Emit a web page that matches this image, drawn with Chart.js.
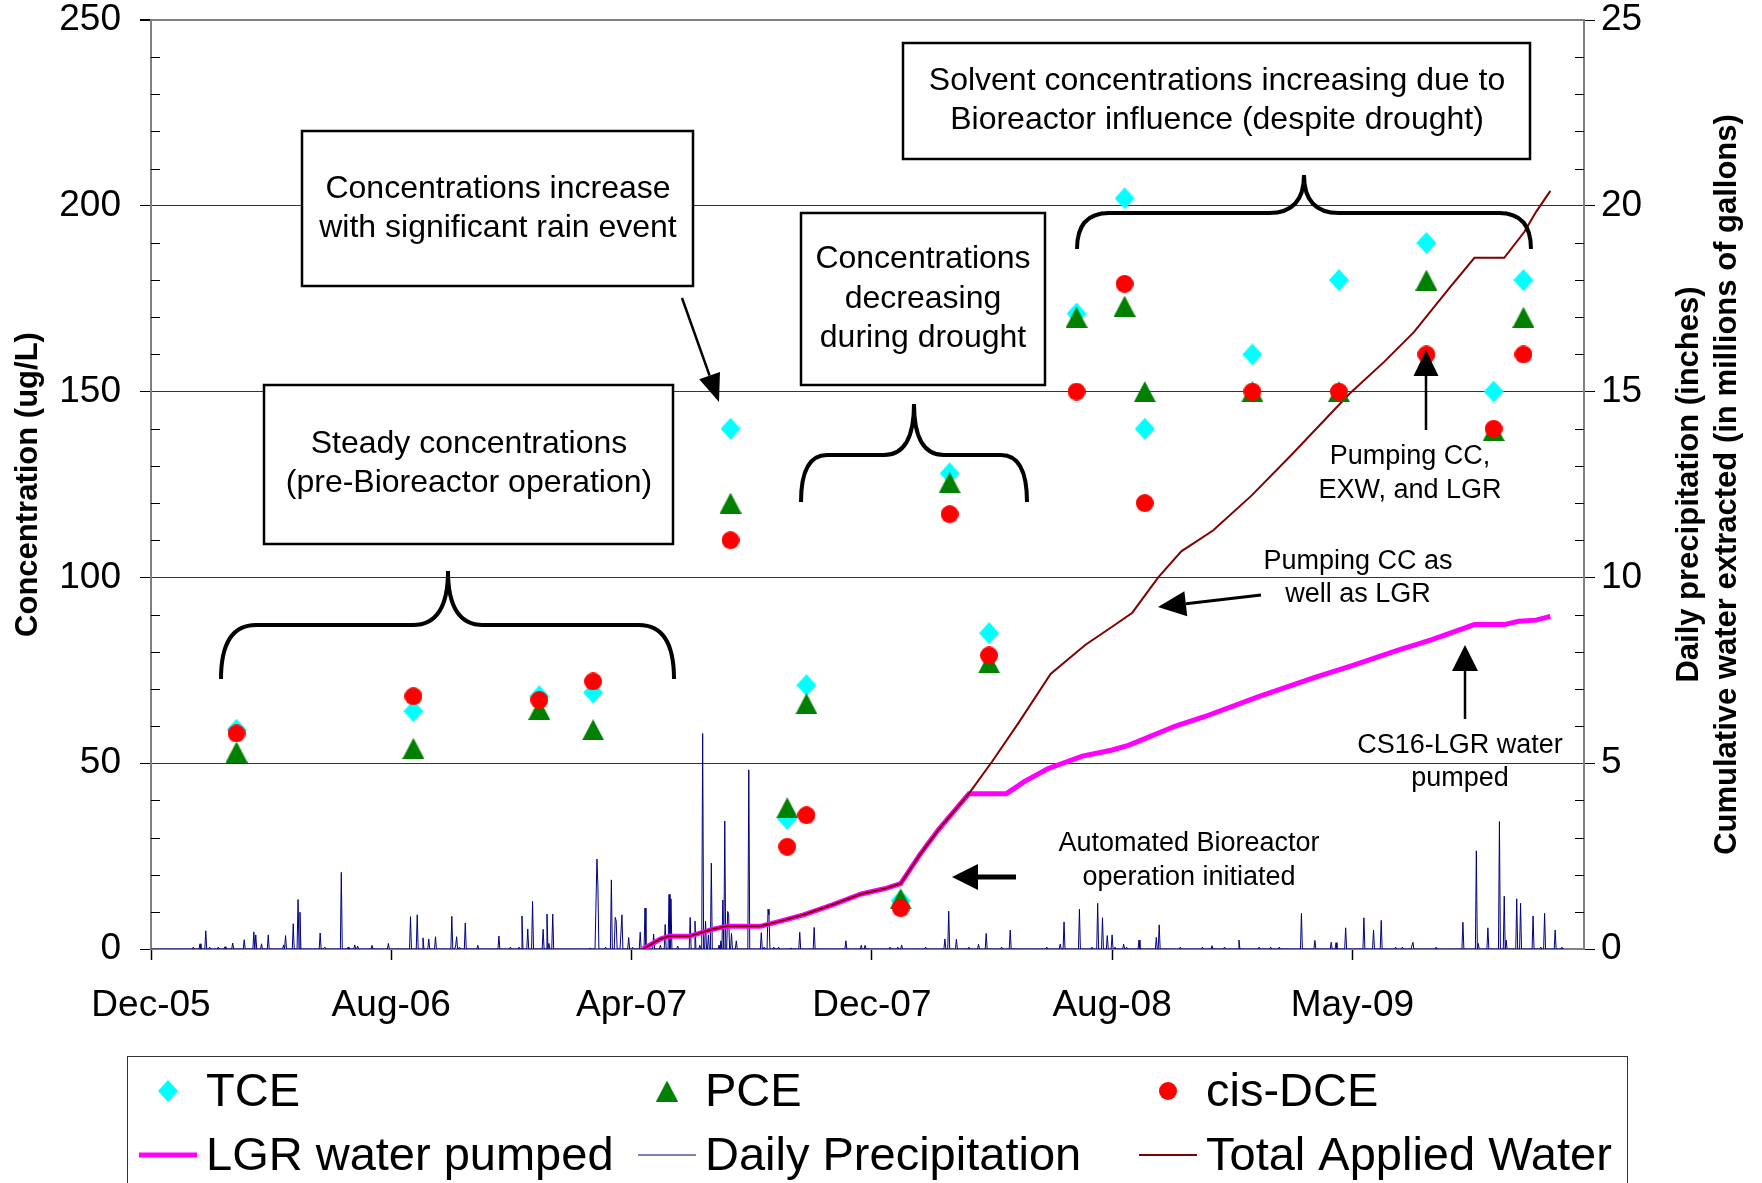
<!DOCTYPE html>
<html>
<head>
<meta charset="utf-8">
<title>Solvent concentrations and applied water</title>
<script src="https://cdn.jsdelivr.net/npm/chart.js@4.4.1/dist/chart.umd.min.js"></script>
<style>
  html, body { margin: 0; padding: 0; background: #fff; }
  #wrap { width: 1762px; height: 1183px; }
</style>
</head>
<body>
<div id="wrap"><canvas id="chart" width="1762" height="1183"></canvas></div>
<script>
// sampling events, x = days counted from 1 Dec 2005
const sampleDays = [89, 273, 404, 460, 603, 662, 682, 780, 831, 872, 963, 1013, 1034, 1146, 1236, 1327, 1397, 1428];
const tce    = [59, 64, 68, 69, 140, 35, 71, 13, 128, 85, 171, 202, 140, 160, 180, 190, 150, 180];
const pce    = [53, 54, 64.5, 59, 120, 38, 66, 13.5, 125.5, 77, 170, 173, 150, 150, 150, 180, 139.5, 170];
const cisDce = [58, 68, 67, 72, 110, 27.5, 36, 11, 117, 79, 150, 179, 120, 150, 150, 160, 140, 160];

// cumulative water, millions of gallons
const lgrDays   = [512, 530, 539, 560, 584, 599, 634, 655, 679, 709, 739, 763, 780, 800, 819, 851, 890, 909, 933, 969, 999, 1017, 1066, 1096, 1151, 1211, 1253, 1296, 1332, 1377, 1408, 1423, 1441, 1456];
const lgrValues = [0, 0.27, 0.34, 0.34, 0.53, 0.61, 0.61, 0.75, 0.92, 1.19, 1.48, 1.62, 1.76, 2.54, 3.2, 4.18, 4.18, 4.51, 4.85, 5.19, 5.35, 5.48, 6.0, 6.25, 6.78, 7.31, 7.65, 8.03, 8.32, 8.73, 8.73, 8.82, 8.85, 8.95];
const totalDays   = [512, 530, 539, 560, 584, 599, 634, 655, 679, 709, 739, 763, 780, 800, 819, 851, 875, 903, 936, 972, 1005, 1021, 1048, 1072, 1105, 1145, 1186, 1247, 1283, 1314, 1350, 1377, 1408, 1429, 1441, 1456];
const totalValues = [0, 0.27, 0.34, 0.34, 0.53, 0.61, 0.61, 0.75, 0.92, 1.19, 1.48, 1.62, 1.76, 2.54, 3.2, 4.18, 5.04, 6.1, 7.4, 8.18, 8.76, 9.05, 10.0, 10.7, 11.26, 12.2, 13.28, 14.94, 15.8, 16.6, 17.76, 18.6, 18.6, 19.3, 19.83, 20.4];

// rainy days (all other days are dry), inches
const rainDays = [44, 51, 57, 61, 70, 77, 85, 97, 107, 109, 115, 122, 138, 140, 148, 153, 155, 176, 181, 198, 205, 212, 215, 230, 247,
  270, 277, 283, 289, 296, 313, 317, 318, 321, 327, 340, 362, 374, 383, 386, 392, 397, 408, 412, 414, 418, 457, 464, 465, 473, 479,
  483, 484, 490, 497, 501, 509, 514, 523, 530, 535, 539, 541, 548, 561, 566, 571, 574, 577, 580, 583, 591, 593, 595, 597, 600, 601,
  604, 609, 622, 635, 638, 642, 643, 648, 653, 666, 675, 690, 723, 739, 743, 769, 777, 781, 806, 826, 830, 838, 851, 861, 869, 885,
  894, 932, 946, 950, 966, 979, 985, 990, 995, 1000, 1003, 1012, 1015, 1028, 1046, 1049, 1071, 1094, 1104, 1117, 1132, 1153, 1165,
  1174, 1197, 1211, 1228, 1233, 1243, 1262, 1272, 1280, 1295, 1302, 1313, 1337, 1365, 1379, 1381, 1391, 1403, 1408, 1410, 1421,
  1425, 1438, 1446, 1450, 1461, 1468];
const rainInches = [0.05, 0.14, 0.49, 0.05, 0.05, 0.06, 0.16, 0.25, 0.46, 0.38, 0.14, 0.38, 0.11, 0.36, 0.68, 1.33, 0.99, 0.43, 0.05, 2.06, 0.05, 0.11, 0.08, 0.1, 0.15,
  0.87, 0.92, 0.3, 0.27, 0.33, 0.88, 0.08, 0.33, 0.05, 0.7, 0.1, 0.35, 0.05, 0.05, 0.89, 0.54, 1.28, 0.53, 0.94, 0.15, 0.94, 0.03, 2.42, 1.7, 0.05, 1.86,
  0.85, 0.76, 0.92, 0.31, 0.05, 0.45, 1.1, 0.4, 0.1, 0.66, 1.47, 1.35, 0.08, 0.85, 0.75, 0.1, 5.8, 0.75, 0.38, 2.31, 0.1, 0.22, 1.32, 3.44, 1.01, 0.96,
  0.42, 0.22, 4.82, 0.44, 0.05, 1.07, 0.92, 0.05, 0.05, 0.03, 0.45, 0.58, 0.22, 0.1, 0.1, 0.05, 0.05, 0.11, 0.05, 0.27, 1.02, 0.26, 0.05, 0.13, 0.42, 0.05,
  0.51, 0.05, 0.13, 0.73, 1.07, 0.05, 1.23, 0.84, 0.36, 0.38, 0.05, 0.13, 0.05, 0.24, 0.31, 0.65, 0.05, 0.05, 0.09, 0.05, 0.24, 0.05, 0.05,
  0.05, 0.96, 0.23, 0.18, 0.17, 0.57, 0.84, 0.51, 0.77, 0.05, 0.05, 0.18, 0.05, 0.72, 2.64, 0.15, 0.57, 3.43, 1.42, 0.24, 1.35,
  1.23, 0.89, 0.05, 0.96, 0.51, 0.05];
const precipFirstDay = 0;
const precipLastDay = 1470;

const xTickLabels = ['Dec-05', 'Aug-06', 'Apr-07', 'Dec-07', 'Aug-08', 'May-09'];
const xTickStep = 250;
const xMax = 1491;

Chart.defaults.font.family = '"Liberation Sans", Arial, sans-serif';
Chart.defaults.color = '#000';

// marker images, so the shapes match the excel ones
function makeMarker(shape, color) {
  const c = document.createElement('canvas');
  const size = { diamond: [20, 22], triangle: [22, 21], circle: [18, 18] }[shape];
  c.width = size[0];
  c.height = size[1];
  const g = c.getContext('2d');
  g.fillStyle = color;
  g.beginPath();
  if (shape === 'diamond') {
    g.moveTo(10, 0); g.lineTo(20, 11); g.lineTo(10, 22); g.lineTo(0, 11);
  } else if (shape === 'triangle') {
    g.moveTo(11, 0); g.lineTo(22, 21); g.lineTo(0, 21);
  } else {
    g.arc(9, 9, 9, 0, Math.PI * 2);
  }
  g.closePath();
  g.fill();
  return c;
}

const tceMarker = makeMarker('diamond', '#00FFFF');
const pceMarker = makeMarker('triangle', '#008000');
const dceMarker = makeMarker('circle', '#FF0000');

// build point lists
function pairs(xs, ys) {
  return xs.map((x, i) => ({ x: x, y: ys[i] }));
}
const rainByDay = {};
rainDays.forEach((d, i) => { rainByDay[d] = rainInches[i]; });
const precipPoints = [];
for (let d = precipFirstDay; d <= precipLastDay; d++) {
  precipPoints.push({ x: d, y: rainByDay[d] || 0 });
}

function drawArrow(ctx, x1, y1, x2, y2, shaft, headLen, headW) {
  const a = Math.atan2(y2 - y1, x2 - x1);
  const bx = x2 - Math.cos(a) * headLen;
  const by = y2 - Math.sin(a) * headLen;
  ctx.lineWidth = shaft;
  ctx.beginPath();
  ctx.moveTo(x1, y1);
  ctx.lineTo(bx, by);
  ctx.stroke();
  ctx.beginPath();
  ctx.moveTo(x2, y2);
  ctx.lineTo(bx + Math.sin(a) * headW / 2, by - Math.cos(a) * headW / 2);
  ctx.lineTo(bx - Math.sin(a) * headW / 2, by + Math.cos(a) * headW / 2);
  ctx.closePath();
  ctx.fill();
}

function drawBrace(ctx, x1, x2, xm, yEnd, yBar, yTip, r, r2) {
  ctx.beginPath();
  ctx.moveTo(x1, yEnd);
  ctx.quadraticCurveTo(x1, yBar, x1 + r, yBar);
  ctx.lineTo(xm - r2, yBar);
  ctx.quadraticCurveTo(xm, yBar, xm, yTip);
  ctx.quadraticCurveTo(xm, yBar, xm + r2, yBar);
  ctx.lineTo(x2 - r, yBar);
  ctx.quadraticCurveTo(x2, yBar, x2, yEnd);
  ctx.stroke();
}

// minor ticks (inside) on both value axes
const minorTicks = {
  id: 'minorTicks',
  afterDraw(chart) {
    const ctx = chart.ctx;
    const y = chart.scales.y, y1 = chart.scales.y1;
    ctx.save();
    ctx.strokeStyle = '#000';
    ctx.lineWidth = 1;
    ctx.beginPath();
    for (let v = 10; v < 250; v += 10) {
      if (v % 50 === 0) continue;
      const py = Math.round(y.getPixelForValue(v)) + 0.5;
      ctx.moveTo(y.right, py); ctx.lineTo(y.right + 9, py);
    }
    for (let v = 1; v < 25; v++) {
      if (v % 5 === 0) continue;
      const py = Math.round(y1.getPixelForValue(v)) + 0.5;
      ctx.moveTo(y1.left - 9, py); ctx.lineTo(y1.left, py);
    }
    ctx.stroke();
    ctx.restore();
  }
};

// right axis titles read bottom to top, like the left one
const rightTitles = {
  id: 'rightTitles',
  afterDraw(chart) {
    const ctx = chart.ctx;
    const cy = (chart.chartArea.top + chart.chartArea.bottom) / 2;
    ctx.save();
    ctx.font = 'bold 31px "Liberation Sans", Arial, sans-serif';
    ctx.fillStyle = '#000';
    ctx.textAlign = 'center';
    ctx.textBaseline = 'middle';
    [['Daily precipitation (inches)', 1689], ['Cumulative water extracted (in millions of gallons)', 1727]].forEach(t => {
      ctx.save();
      ctx.translate(t[1], cy);
      ctx.rotate(-Math.PI / 2);
      ctx.fillText(t[0], 0, 0);
      ctx.restore();
    });
    ctx.restore();
  }
};

// text boxes, braces and arrows
const notes = {
  id: 'notes',
  afterDraw(chart) {
    const ctx = chart.ctx;
    const boxes = [
      { x: 302, y: 131, w: 391, h: 155, cx: 498, lines: ['Concentrations increase', 'with significant rain event'], ly: [189, 228] },
      { x: 264, y: 385, w: 409, h: 159, cx: 469, lines: ['Steady concentrations', '(pre-Bioreactor operation)'], ly: [444, 483] },
      { x: 801, y: 213, w: 244, h: 172, cx: 923, lines: ['Concentrations', 'decreasing', 'during drought'], ly: [259, 299, 338] },
      { x: 903, y: 43, w: 627, h: 116, cx: 1217, lines: ['Solvent concentrations increasing due to', 'Bioreactor influence (despite drought)'], ly: [81, 120] }
    ];
    ctx.save();
    ctx.fillStyle = '#000';
    ctx.strokeStyle = '#000';
    ctx.textAlign = 'center';
    ctx.textBaseline = 'middle';
    boxes.forEach(b => {
      ctx.fillStyle = '#fff';
      ctx.fillRect(b.x, b.y, b.w, b.h);
      ctx.lineWidth = 2.5;
      ctx.strokeRect(b.x, b.y, b.w, b.h);
      ctx.fillStyle = '#000';
      ctx.font = '32px "Liberation Sans", Arial, sans-serif';
      b.lines.forEach((t, i) => ctx.fillText(t, b.cx, b.ly[i]));
    });

    ctx.lineWidth = 4;
    ctx.lineCap = 'butt';
    drawBrace(ctx, 221, 674, 448, 679, 625, 571, 35, 35);
    drawBrace(ctx, 801, 1027, 914, 502, 455, 404, 26, 30);
    drawBrace(ctx, 1077, 1531, 1304, 249, 213, 175, 32, 35);

    drawArrow(ctx, 682, 298, 719, 402, 2.5, 28, 22);
    drawArrow(ctx, 1426, 430, 1426, 350, 2.5, 26, 25);
    drawArrow(ctx, 1261, 595, 1158, 607, 3, 28, 25);
    drawArrow(ctx, 1465, 719, 1465, 645, 2.5, 26, 26);
    drawArrow(ctx, 1016, 877, 952, 877, 5, 26, 26);

    ctx.font = '27px "Liberation Sans", Arial, sans-serif';
    [['Pumping CC,', 1410, 457], ['EXW, and LGR', 1410, 491],
     ['Pumping CC as', 1358, 562], ['well as LGR', 1358, 595],
     ['CS16-LGR water', 1460, 746], ['pumped', 1460, 779],
     ['Automated Bioreactor', 1189, 844], ['operation initiated', 1189, 878]]
      .forEach(t => ctx.fillText(t[0], t[1], t[2]));
    ctx.restore();
  }
};

// legend in a 3 x 2 grid with a frame, like the original
const gridLegend = {
  id: 'gridLegend',
  afterDraw(chart) {
    const ctx = chart.ctx;
    const colX = [168, 667, 1168];
    const rowY = [1091, 1155];
    ctx.save();
    ctx.strokeStyle = '#333';
    ctx.lineWidth = 1;
    ctx.strokeRect(127.5, 1056.5, 1500, 140);
    ctx.font = '47px "Liberation Sans", Arial, sans-serif';
    ctx.textAlign = 'left';
    ctx.textBaseline = 'middle';
    chart.data.datasets.forEach((ds, i) => {
      const cx = colX[i % 3];
      const cy = rowY[Math.floor(i / 3)];
      if (ds.showLine) {
        ctx.strokeStyle = ds.borderColor;
        ctx.lineWidth = ds.borderWidth;
        ctx.beginPath();
        ctx.moveTo(cx - 29, cy);
        ctx.lineTo(cx + 29, cy);
        ctx.stroke();
      } else {
        const m = ds.pointStyle;
        ctx.drawImage(m, cx - m.width / 2, cy - m.height / 2);
      }
      ctx.fillStyle = '#000';
      ctx.fillText(ds.label, cx + 38, cy + 2);
    });
    ctx.restore();
  }
};

// value axes: fixed width, no extra room above/below for the end labels
function fixValueAxis(width) {
  return s => {
    s.width = width;
    s.paddingTop = 0;
    s.paddingBottom = 0;
  };
}

new Chart(document.getElementById('chart').getContext('2d'), {
  type: 'scatter',
  data: {
    datasets: [
      { label: 'TCE', data: pairs(sampleDays, tce), yAxisID: 'y', pointStyle: tceMarker, pointRadius: 10, order: 3 },
      { label: 'PCE', data: pairs(sampleDays, pce), yAxisID: 'y', pointStyle: pceMarker, pointRadius: 10, order: 2 },
      { label: 'cis-DCE', data: pairs(sampleDays, cisDce), yAxisID: 'y', pointStyle: dceMarker, pointRadius: 10, order: 1 },
      { label: 'LGR water pumped', data: pairs(lgrDays, lgrValues), yAxisID: 'y1', showLine: true,
        borderColor: '#FF00FF', borderWidth: 5, pointRadius: 0, order: 6 },
      { label: 'Daily Precipitation', data: precipPoints, yAxisID: 'y1', showLine: true,
        borderColor: '#000080', borderWidth: 1, pointRadius: 0, order: 7 },
      { label: 'Total Applied Water', data: pairs(totalDays, totalValues), yAxisID: 'y1', showLine: true,
        borderColor: '#800000', borderWidth: 2, pointRadius: 0, order: 5 }
    ]
  },
  options: {
    responsive: false,
    devicePixelRatio: 1,
    animation: false,
    events: [],
    layout: { padding: { top: 20, bottom: 134, left: 0, right: 0 } },
    plugins: { legend: { display: false }, tooltip: { enabled: false } },
    scales: {
      x: {
        type: 'linear',
        min: 0,
        max: xMax,
        z: 1,
        afterFit: s => { s.height = 100; },
        afterBuildTicks: s => { s.ticks = xTickLabels.map((t, i) => ({ value: i * xTickStep })); },
        ticks: {
          stepSize: xTickStep,
          includeBounds: false,
          maxRotation: 0,
          padding: 24,
          font: { size: 37 },
          callback: v => xTickLabels[Math.round(v / xTickStep)]
        },
        grid: { drawOnChartArea: false, tickLength: 11, tickColor: '#000', tickWidth: 1.5 },
        border: { color: '#808080', width: 2 }
      },
      y: {
        position: 'left',
        min: 0,
        max: 250,
        afterFit: fixValueAxis(151),
        ticks: { stepSize: 50, padding: 19, font: { size: 37 } },
        grid: {
          tickLength: 11,
          tickColor: '#000',
          color: c => c.tick.value === 250 ? '#808080' : '#333',
          lineWidth: c => c.tick.value === 250 ? 2 : 1
        },
        border: { color: '#808080', width: 2 },
        title: { display: true, text: 'Concentration (ug/L)', font: { size: 31, weight: 'bold' }, padding: { top: 10, bottom: 0 } }
      },
      y1: {
        position: 'right',
        min: 0,
        max: 25,
        afterFit: fixValueAxis(178),
        ticks: { stepSize: 5, padding: 6, font: { size: 37 } },
        grid: { drawOnChartArea: false, tickLength: 11, tickColor: '#000' },
        border: { color: '#808080', width: 2 }
      }
    }
  },
  plugins: [minorTicks, rightTitles, notes, gridLegend]
});
</script>
</body>
</html>
